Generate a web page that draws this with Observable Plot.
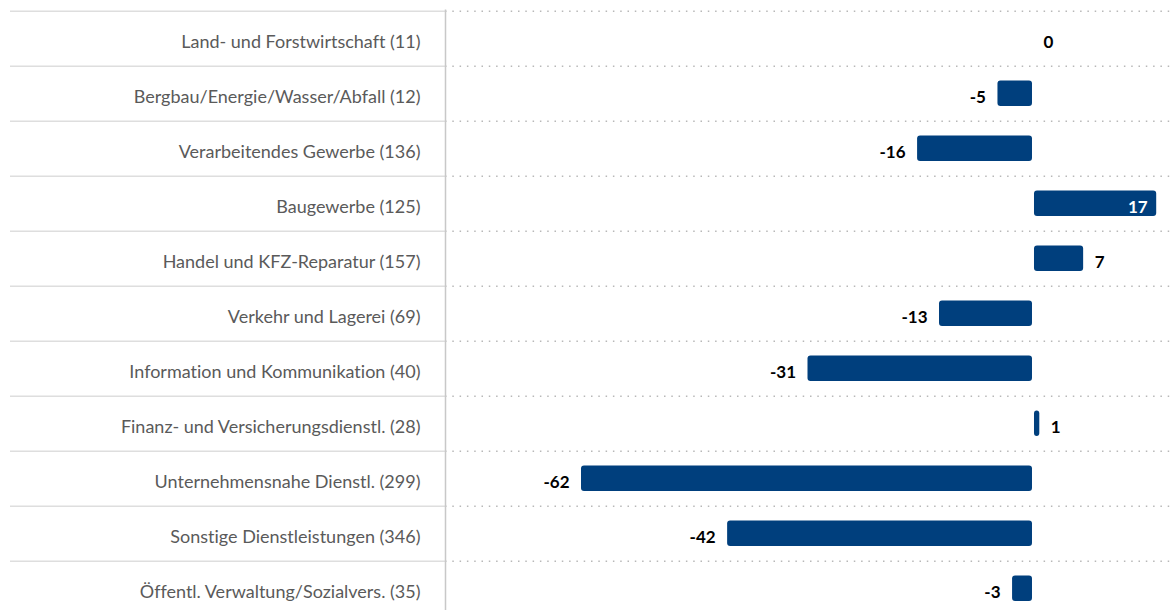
<!DOCTYPE html>
<html>
<head>
<meta charset="utf-8">
<script src="https://cdn.jsdelivr.net/npm/d3@7"></script>
<script src="https://cdn.jsdelivr.net/npm/@observablehq/plot@0.6"></script>
<style>
  html, body { margin: 0; padding: 0; background: #fff; }
  svg { display: block; }
  svg text { font-variant-ligatures: none; font-feature-settings: "liga" 0, "clig" 0; }
</style>
</head>
<body>
<div id="chart"></div>
<script>
const categories = [
  "Land- und Forstwirtschaft",
  "Bergbau/Energie/Wasser/Abfall",
  "Verarbeitendes Gewerbe",
  "Baugewerbe",
  "Handel und KFZ-Reparatur",
  "Verkehr und Lagerei",
  "Information und Kommunikation",
  "Finanz- und Versicherungsdienstl.",
  "Unternehmensnahe Dienstl.",
  "Sonstige Dienstleistungen",
  "Öffentl. Verwaltung/Sozialvers."
];
const counts = [11, 12, 136, 125, 157, 69, 40, 28, 299, 346, 35];
const values = [0, -5, -16, 17, 7, -13, -31, 1, -62, -42, -3];

const data = categories.map((c, i) => ({i, label: `${c} (${counts[i]})`, value: values[i]}));
const idx = data.map(d => d.i);
const gridVals = idx.map(i => i - 0.5);
const maxVal = d3.max(values);

const xDomain = [-62, 17];
const xRange = [580, 1157.2];
const marginLeft = 445;
// x-value at the left edge of the plotting frame (for the separator line)
const frameLeftValue = d3.scaleLinear(xDomain, xRange).invert(marginLeft);

const chart = Plot.plot({
  width: 1171,
  height: 610,
  marginLeft,
  marginRight: 0,
  marginTop: 10,
  marginBottom: 0,
  x: {domain: xDomain, range: xRange, axis: null},
  y: {domain: [0, 10], range: [38.2, 588.2], axis: null},
  style: {fontFamily: "Lato, 'Open Sans', sans-serif", background: "#fff", overflow: "visible"},
  marks: [
    Plot.axisY(gridVals, {anchor: "left", label: null, tickSize: 435, tickFormat: () => "", stroke: "#dedede", strokeWidth: 1.5, strokeOpacity: 1}),
    Plot.ruleY(gridVals, {stroke: "#b8b8b8", strokeWidth: 1.5, strokeDasharray: "1.5,5.8"}),
    Plot.ruleX([frameLeftValue], {y1: -0.52, y2: 10.5, stroke: "#c8c8c8", strokeWidth: 1.5}),
    Plot.axisY(idx, {anchor: "left", label: null, tickSize: 0, tickPadding: 25, tickFormat: i => data[i].label,
      fontSize: 18, fill: "#5a5a5a", dy: 4}),
    Plot.rectX(data, {x1: 0, x2: "value", y1: d => d.i - 0.232, y2: d => d.i + 0.232,
      fill: "#003f7d", rx: 3, insetLeft: 1, insetRight: 1}),
    Plot.text(data.filter(d => d.value === maxVal && d.value > 0), {x: "value", y: "i", text: d => String(d.value),
      textAnchor: "end", dx: -10, dy: 4, fill: "#fff", fontWeight: "bold", fontSize: 17}),
    Plot.text(data.filter(d => d.value >= 0 && d.value !== maxVal), {x: "value", y: "i", text: d => String(d.value),
      textAnchor: "start", dx: 10, dy: 4, fill: "#000", fontWeight: "bold", fontSize: 17}),
    Plot.text(data.filter(d => d.value < 0), {x: "value", y: "i", text: d => String(d.value),
      textAnchor: "end", dx: -11, dy: 4, fill: "#000", fontWeight: "bold", fontSize: 17})
  ]
});
document.getElementById("chart").appendChild(chart);
</script>
</body>
</html>
